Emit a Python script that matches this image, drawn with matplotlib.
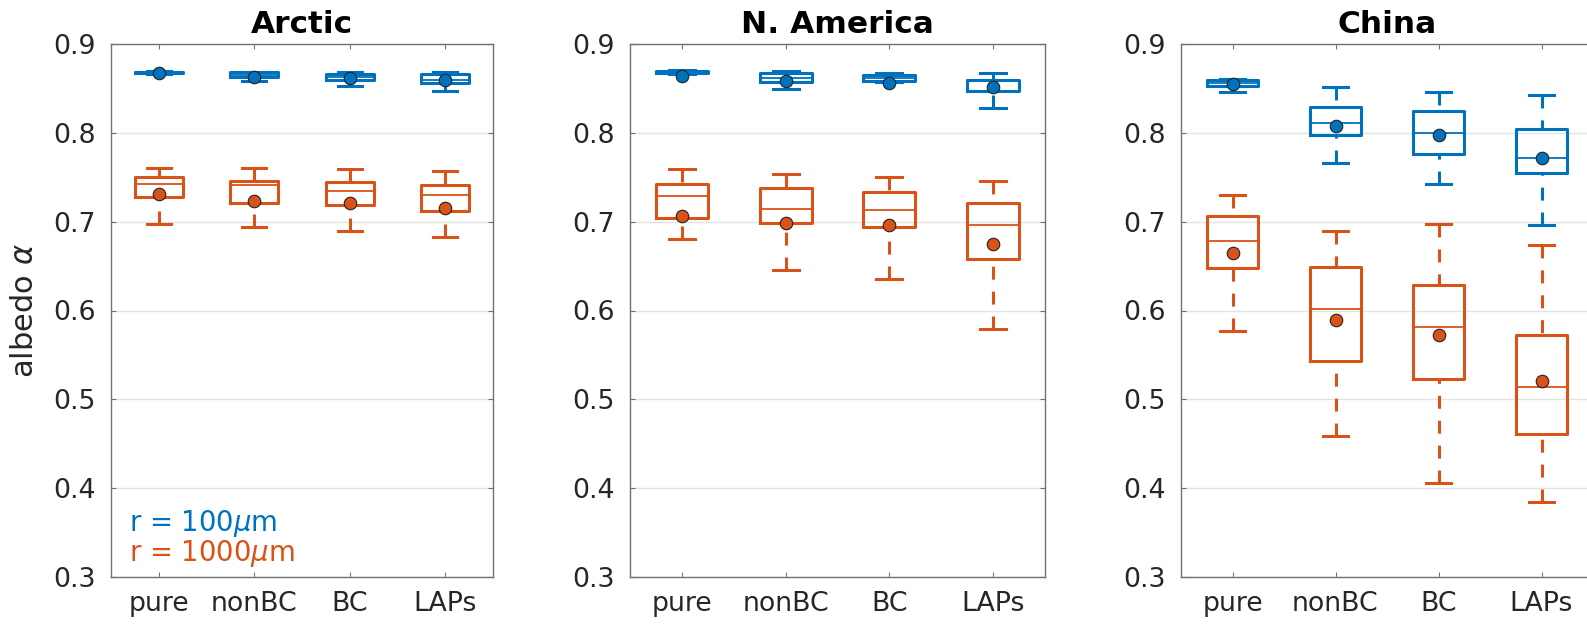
"""Snow albedo box plots for pure snow and snow with light-absorbing particles."""

import matplotlib

matplotlib.use("Agg")
import matplotlib.pyplot as plt
import numpy as np

BLUE = "#0072BD"
ORANGE = "#D95319"
INK = "#262626"
SPINE = "#707070"
GRID = "#e3e3e3"

regions = ["Arctic", "N. America", "China"]
cases = ["pure", "nonBC", "BC", "LAPs"]

# r = 100 um, rows = regions, columns = cases
small_whislo = [[0.8660, 0.8587, 0.8527, 0.8474],
                [0.8660, 0.8490, 0.8570, 0.8280],
                [0.8460, 0.7657, 0.7423, 0.6958]]
small_q1 = [[0.8670, 0.8630, 0.8595, 0.8565],
            [0.8670, 0.8572, 0.8587, 0.8474],
            [0.8527, 0.7972, 0.7761, 0.7550]]
small_med = [[0.8680, 0.8650, 0.8625, 0.8600],
             [0.8680, 0.8617, 0.8620, 0.8590],
             [0.8560, 0.8114, 0.7994, 0.7716]]
small_q3 = [[0.8690, 0.8685, 0.8660, 0.8662],
            [0.8695, 0.8670, 0.8647, 0.8600],
            [0.8595, 0.8287, 0.8242, 0.8047]]
small_whishi = [[0.8700, 0.8690, 0.8690, 0.8690],
                [0.8705, 0.8700, 0.8677, 0.8677],
                [0.8605, 0.8520, 0.8460, 0.8430]]
small_mean = [[0.8670, 0.8625, 0.8617, 0.8595],
              [0.8640, 0.8580, 0.8565, 0.8512],
              [0.8546, 0.8073, 0.7979, 0.7720]]

# r = 1000 um
large_whislo = [[0.6973, 0.6936, 0.6891, 0.6830],
                [0.6808, 0.6455, 0.6357, 0.5794],
                [0.5765, 0.4586, 0.4053, 0.3842]]
large_q1 = [[0.7280, 0.7213, 0.7183, 0.7116],
            [0.7040, 0.6988, 0.6936, 0.6575],
            [0.6477, 0.5427, 0.5224, 0.4608]]
large_med = [[0.7423, 0.7409, 0.7341, 0.7303],
             [0.7288, 0.7146, 0.7130, 0.6965],
             [0.6785, 0.6019, 0.5810, 0.5134]]
large_q3 = [[0.7499, 0.7460, 0.7446, 0.7410],
            [0.7423, 0.7378, 0.7333, 0.7206],
            [0.7063, 0.6492, 0.6290, 0.5720]]
large_whishi = [[0.7604, 0.7604, 0.7589, 0.7574],
                [0.7589, 0.7536, 0.7506, 0.7454],
                [0.7303, 0.6898, 0.6973, 0.6733]]
large_mean = [[0.7307, 0.7236, 0.7210, 0.7153],
              [0.7067, 0.6984, 0.6962, 0.6748],
              [0.6650, 0.5895, 0.5720, 0.5202]]

yticks = [0.3, 0.4, 0.5, 0.6, 0.7, 0.8, 0.9]

plt.rcParams.update({"font.family": "DejaVu Sans", "mathtext.fontset": "dejavusans"})

W, H = 1587, 628
fig = plt.figure(figsize=(W / 100, H / 100), dpi=100, facecolor="white")
# left, right in pixels; panel 3 runs past the figure edge as in the original
panel_px = [(111, 493), (630, 1045), (1181, 1593)]
top_px, bottom_px = 44, 577


def draw_boxes(ax, idx, color, whislo, q1, med, q3, whishi, mean):
    stats = []
    for j in range(len(cases)):
        stats.append({
            "whislo": whislo[idx][j], "q1": q1[idx][j], "med": med[idx][j],
            "q3": q3[idx][j], "whishi": whishi[idx][j], "mean": mean[idx][j],
        })
    lw = 2.2
    art = ax.bxp(
        stats, positions=np.arange(1, len(cases) + 1), widths=0.5, capwidths=0.25,
        showmeans=True, showfliers=False, patch_artist=False, manage_ticks=False,
        boxprops=dict(color=color, linewidth=lw),
        medianprops=dict(color=color, linewidth=1.3),
        whiskerprops=dict(color=color, linewidth=lw, linestyle=(0, (4.25, 3.9)),
                          dash_capstyle="butt"),
        capprops=dict(color=color, linewidth=lw),
        meanprops=dict(marker="o", markerfacecolor=color, markeredgecolor="#222222",
                       markeredgewidth=0.8, markersize=9),
        zorder=3,
    )
    # dash pattern starts at the cap, like the source figure
    for line in art["whiskers"]:
        line.set_ydata(line.get_ydata()[::-1])
    for line in art["means"]:
        line.set_zorder(5)


for i, region in enumerate(regions):
    left, right = panel_px[i]
    ax = fig.add_axes([left / W, 1 - bottom_px / H, (right - left) / W,
                       (bottom_px - top_px) / H])
    ax.yaxis.grid(True, color=GRID, linewidth=1.0)
    ax.set_axisbelow(True)

    draw_boxes(ax, i, BLUE, small_whislo, small_q1, small_med, small_q3,
               small_whishi, small_mean)
    draw_boxes(ax, i, ORANGE, large_whislo, large_q1, large_med, large_q3,
               large_whishi, large_mean)

    ax.set_xlim(0.5, len(cases) + 0.5)
    ax.set_ylim(0.3, 0.9)
    ax.set_xticks(np.arange(1, len(cases) + 1))
    ax.set_xticklabels(cases)
    ax.set_yticks(yticks)
    ax.set_yticklabels([f"{t:.1f}" for t in yticks])
    ax.tick_params(direction="in", length=3.5, width=0.8, top=True, right=True,
                   labelsize=19.3, colors=SPINE, labelcolor=INK)
    ax.tick_params(axis="x", pad=10)
    ax.tick_params(axis="y", pad=11)
    for spine in ax.spines.values():
        spine.set_color(SPINE)
        spine.set_linewidth(1.0)
    ax.set_title(region, fontsize=22.5, fontweight="bold", color="black", pad=8)

    if i == 0:
        ax.set_ylabel(r"albedo $\alpha$", fontsize=22, color=INK, labelpad=10)
        ax.text(0.69, 0.352, r"r = 100$\mu$m", color=BLUE, fontsize=19.8,
                va="baseline")
        ax.text(0.69, 0.3175, r"r = 1000$\mu$m", color=ORANGE, fontsize=19.8,
                va="baseline")

fig.savefig("out.png", dpi=100, facecolor="white")
